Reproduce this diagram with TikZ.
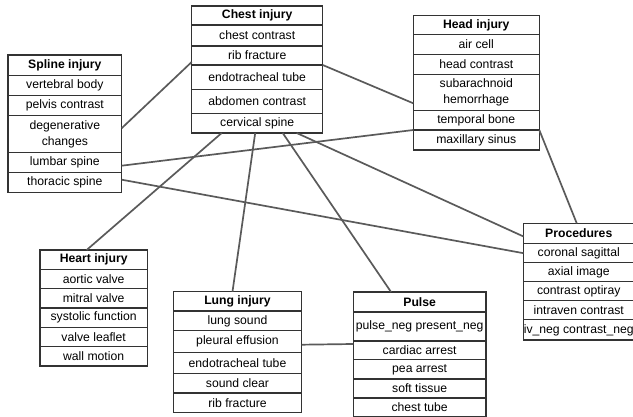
\documentclass[tikz,border=0pt]{standalone}
\usepackage{fontspec}
\setmainfont{Liberation Sans}
\usetikzlibrary{positioning}
\definecolor{boxLine}{HTML}{333333}
\definecolor{linkGray}{HTML}{5A5A5A}
\begin{document}
\begin{tikzpicture}[
    x=1pt, y=-1pt,
    tblCell/.style={draw=boxLine,line width=1.1pt,fill=white,inner sep=0pt,outer sep=0pt,align=center,font=\fontsize{12.2}{16.5}\selectfont},
    tblHead/.style={tblCell,font=\fontsize{12.2}{16.5}\selectfont\bfseries},
    tblLink/.style={draw=linkGray,line width=1.7pt},
    chestW/.style={minimum width=131pt},
    splW/.style={minimum width=113.7pt},
    headW/.style={minimum width=126pt},
    heartW/.style={minimum width=107.3pt},
    lungW/.style={minimum width=128.4pt},
    pulseW/.style={minimum width=132.7pt},
    procW/.style={minimum width=110.5pt},
]
\useasboundingbox (0,0) rectangle (633,417);
% Chest injury
\node[tblHead,chestW,minimum height=19pt,anchor=north west] (chestT) at (191.7,6) {Chest injury};
\node[tblCell,chestW,minimum height=21pt,below=0pt of chestT] (chest1) {chest contrast};
\node[tblCell,chestW,minimum height=19pt,below=0pt of chest1] (chest2) {rib fracture};
\node[tblCell,chestW,minimum height=24.3pt,below=0pt of chest2] (chest3) {endotracheal tube};
\node[tblCell,chestW,minimum height=24pt,below=0pt of chest3] (chest4) {abdomen contrast};
\node[tblCell,chestW,minimum height=19.7pt,below=0pt of chest4] (chest5) {cervical spine};
% Spline injury
\node[tblHead,splW,minimum height=20.7pt,anchor=north west] (splT) at (8,55) {Spline injury};
\node[tblCell,splW,minimum height=20pt,below=0pt of splT] (spl1) {vertebral body};
\node[tblCell,splW,minimum height=20pt,below=0pt of spl1] (spl2) {pelvis contrast};
\node[tblCell,splW,minimum height=37pt,below=0pt of spl2] (spl3) {degenerative\\changes};
\node[tblCell,splW,minimum height=20pt,below=0pt of spl3] (spl4) {lumbar spine};
\node[tblCell,splW,minimum height=20pt,below=0pt of spl4] (spl5) {thoracic spine};
% Head injury
\node[tblHead,headW,minimum height=19.4pt,anchor=north west] (headT) at (413.3,15.3) {Head injury};
\node[tblCell,headW,minimum height=19.6pt,below=0pt of headT] (head1) {air cell};
\node[tblCell,headW,minimum height=20pt,below=0pt of head1] (head2) {head contrast};
\node[tblCell,headW,minimum height=36pt,below=0pt of head2] (head3) {subarachnoid\\hemorrhage};
\node[tblCell,headW,minimum height=19.7pt,below=0pt of head3] (head4) {temporal bone};
\node[tblCell,headW,minimum height=20pt,below=0pt of head4] (head5) {maxillary sinus};
% Heart injury
\node[tblHead,heartW,minimum height=19.3pt,anchor=north west] (heartT) at (40,250) {Heart injury};
\node[tblCell,heartW,minimum height=19.4pt,below=0pt of heartT] (heart1) {aortic valve};
\node[tblCell,heartW,minimum height=19.3pt,below=0pt of heart1] (heart2) {mitral valve};
\node[tblCell,heartW,minimum height=19.3pt,below=0pt of heart2] (heart3) {systolic function};
\node[tblCell,heartW,minimum height=19.4pt,below=0pt of heart3] (heart4) {valve leaflet};
\node[tblCell,heartW,minimum height=19.3pt,below=0pt of heart4] (heart5) {wall motion};
% Lung injury
\node[tblHead,lungW,minimum height=19.3pt,anchor=north west] (lungT) at (173.3,291.7) {Lung injury};
\node[tblCell,lungW,minimum height=19.7pt,below=0pt of lungT] (lung1) {lung sound};
\node[tblCell,lungW,minimum height=22pt,below=0pt of lung1] (lung2) {pleural effusion};
\node[tblCell,lungW,minimum height=20.6pt,below=0pt of lung2] (lung3) {endotracheal tube};
\node[tblCell,lungW,minimum height=19.7pt,below=0pt of lung3] (lung4) {sound clear};
\node[tblCell,lungW,minimum height=19.3pt,below=0pt of lung4] (lung5) {rib fracture};
% Pulse
\node[tblHead,pulseW,minimum height=20pt,anchor=north west] (pulseT) at (353.3,292) {Pulse};
\node[tblCell,pulseW,minimum height=29pt,below=0pt of pulseT] (pulse1) {pulse\_neg present\_neg};
\node[tblCell,pulseW,minimum height=18.7pt,below=0pt of pulse1] (pulse2) {cardiac arrest};
\node[tblCell,pulseW,minimum height=19.3pt,below=0pt of pulse2] (pulse3) {pea arrest};
\node[tblCell,pulseW,minimum height=19pt,below=0pt of pulse3] (pulse4) {soft tissue};
\node[tblCell,pulseW,minimum height=18.7pt,below=0pt of pulse4] (pulse5) {chest tube};
% Procedures
\node[tblHead,procW,minimum height=20.4pt,anchor=north west] (procT) at (523.5,223.3) {Procedures};
\node[tblCell,procW,minimum height=19pt,below=0pt of procT] (proc1) {coronal sagittal};
\node[tblCell,procW,minimum height=19pt,below=0pt of proc1] (proc2) {axial image};
\node[tblCell,procW,minimum height=19pt,below=0pt of proc2] (proc3) {contrast optiray};
\node[tblCell,procW,minimum height=19pt,below=0pt of proc3] (proc4) {intraven contrast};
\node[tblCell,procW,minimum height=20.3pt,below=0pt of proc4] (proc5) {iv\_neg contrast\_neg};
% Links
\draw[tblLink] ([yshift=6pt]spl3.east) -- ([yshift=3pt]chest2.south west);
\draw[tblLink] (chest2.south east) -- ([yshift=7pt]head3.south west);
\draw[tblLink] ([yshift=-3pt]spl4.east) -- (head4.south west);
\draw[tblLink] ([yshift=3pt]spl5.east) -- (proc1.west);
\draw[tblLink] ([xshift=-35.5pt]chest5.south) -- ([xshift=-7pt]heartT.north);
\draw[tblLink] ([xshift=-2pt]chest5.south) -- ([xshift=-5pt]lungT.north);
\draw[tblLink] ([xshift=25.5pt]chest5.south) -- ([xshift=-28.6pt]pulseT.north);
\draw[tblLink] ([xshift=39.5pt]chest5.south) -- ([yshift=-3pt]procT.west);
\draw[tblLink] (head4.south east) -- ([xshift=-2pt]procT.north);
\draw[tblLink] ([yshift=-3pt]lung2.east) -- ([yshift=-3pt]pulse2.north west);
\end{tikzpicture}
\end{document}
